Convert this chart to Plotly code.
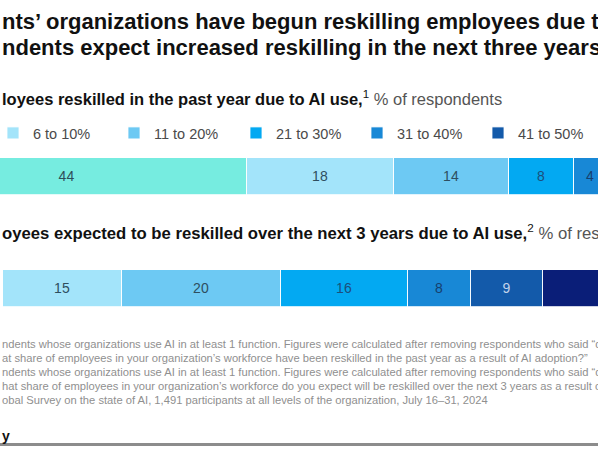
import plotly.graph_objects as go

# ---- data ----
categories = ["5% or less", "6 to 10%", "11 to 20%", "21 to 30%", "31 to 40%", "41 to 50%", "More than 50%"]
past_year = [44, 18, 14, 8, 4, None, None]
next_3_years = [None, 15, 20, 16, 8, 9, 20]
colors = ["#76ECE0", "#A3E4FA", "#6DC9F3", "#03A9F2", "#1888D6", "#135AAA", "#0A1E78"]
label_colors = ["#2E4E58", "#2E4E5E", "#2E4E60", "#1C4F7C", "#163F6E", "#C3D3EA", "#FFFFFF"]
legend_of = [None, "legend", "legend", "legend2", "legend2", "legend2", None]

title_lines = [
    ("Responde", "nts’ organizations have begun reskilling employees due to AI, and"),
    ("most respo", "ndents expect increased reskilling in the next three years"),
]
subtitle_1 = ("<b>Share of emp</b>", "<b>loyees reskilled in the past year due to AI use,</b><sup>1</sup> <span style='color:#555555'>% of respondents</span>")
subtitle_2 = ("<b>Share of empl</b>", "<b>oyees expected to be reskilled over the next 3 years due to AI use,</b><sup>2</sup> <span style='color:#555555'>% of respondents</span>")
footnotes = [
    ("¹Only asked of respo", "ndents whose organizations use AI in at least 1 function. Figures were calculated after removing respondents who said “don’t know.”"),
    ("Question was: “Wh", "at share of employees in your organization’s workforce have been reskilled in the past year as a result of AI adoption?”"),
    ("²Only asked of respo", "ndents whose organizations use AI in at least 1 function. Figures were calculated after removing respondents who said “don’t know.”"),
    ("Question was: “W", "hat share of employees in your organization’s workforce do you expect will be reskilled over the next 3 years as a result of AI adoption?”"),
    ("Source: McKinsey Gl", "obal Survey on the state of AI, 1,491 participants at all levels of the organization, July 16–31, 2024"),
]
brand = ("<b>McKinsey &amp; Compan</b>", "<b>y</b>")

W, H = 598, 449
FONT = "Liberation Sans, Arial, sans-serif"


def py(p):
    return 1 - p / H


fig = go.Figure()

for i, cat in enumerate(categories):
    v = past_year[i]
    if v is not None:
        fig.add_trace(go.Bar(
            x=[v], y=[0], orientation="h", name=cat, legendgroup=cat, showlegend=False,
            xaxis="x", yaxis="y",
            marker=dict(color=colors[i], line=dict(color="rgba(255,255,255,0.8)", width=1)),
            text=[str(v)], textposition="inside", insidetextanchor="middle", textangle=0,
            textfont=dict(size=14, color=label_colors[i], family=FONT),
            hoverinfo="skip",
        ))
for i, cat in enumerate(categories):
    v = next_3_years[i]
    if v is not None:
        fig.add_trace(go.Bar(
            x=[v], y=[0], orientation="h", name=cat, legendgroup=cat,
            showlegend=legend_of[i] is not None,
            legend=legend_of[i] or "legend",
            xaxis="x2", yaxis="y2",
            marker=dict(color=colors[i], line=dict(color="rgba(255,255,255,0.8)", width=1)),
            text=[str(v)], textposition="inside", insidetextanchor="middle", textangle=0,
            textfont=dict(size=14, color=label_colors[i], family=FONT),
            hoverinfo="skip",
        ))

annotations = []


def split_text(pair, y, size, color):
    pre, vis = pair
    annotations.append(dict(text=pre, x=0, y=y, xref="paper", yref="paper", xanchor="right",
                            yanchor="middle", showarrow=False, align="left",
                            font=dict(family=FONT, size=size, color=color)))
    annotations.append(dict(text=vis, x=0, y=y, xref="paper", yref="paper", xanchor="left",
                            yanchor="middle", showarrow=False, align="left",
                            font=dict(family=FONT, size=size, color=color)))


split_text(("<b>" + title_lines[0][0] + "</b>", "<b>" + title_lines[0][1] + "</b>"), py(21), 22, "#111111")
split_text(("<b>" + title_lines[1][0] + "</b>", "<b>" + title_lines[1][1] + "</b>"), py(48), 22, "#111111")
split_text(subtitle_1, py(98), 16.5, "#111111")
split_text(subtitle_2, py(232), 16.7, "#111111")
for k, fn in enumerate(footnotes):
    split_text(fn, py(344 + 14 * k), 11.2, "#8f8f8f")
split_text(brand, py(436), 14, "#111111")

legend_common = dict(orientation="h", xanchor="left", y=py(133), yanchor="middle",
                     font=dict(family=FONT, size=14.5, color="#4a4a4a"),
                     entrywidth=76, entrywidthmode="pixels", itemwidth=30,
                     bgcolor="rgba(0,0,0,0)", traceorder="normal",
                     itemclick=False, itemdoubleclick=False)

fig.update_layout(
    width=W, height=H,
    margin=dict(l=0, r=0, t=0, b=0, pad=0, autoexpand=False),
    paper_bgcolor="white", plot_bgcolor="white",
    barmode="stack", bargap=0,
    xaxis=dict(domain=[0, 1], range=[13.79, 86.94], visible=False, fixedrange=True, anchor="y"),
    yaxis=dict(domain=[py(195), py(158)], range=[-0.5, 0.5], visible=False, fixedrange=True, anchor="x"),
    xaxis2=dict(domain=[0, 1], range=[-0.36, 74.95], visible=False, fixedrange=True, anchor="y2"),
    yaxis2=dict(domain=[py(307), py(270)], range=[-0.5, 0.5], visible=False, fixedrange=True, anchor="x2"),
    showlegend=True,
    legend=dict(x=-7 / W, **legend_common),
    legend2=dict(x=236 / W, **legend_common),
    annotations=annotations,
    shapes=[dict(type="line", xref="x", yref="paper", x0=13.79, x1=86.94, y0=py(444.5), y1=py(444.5),
                 line=dict(color="#8c8c8c", width=3), layer="above")],
)

fig.write_html("out.html", config={"displayModeBar": False})
